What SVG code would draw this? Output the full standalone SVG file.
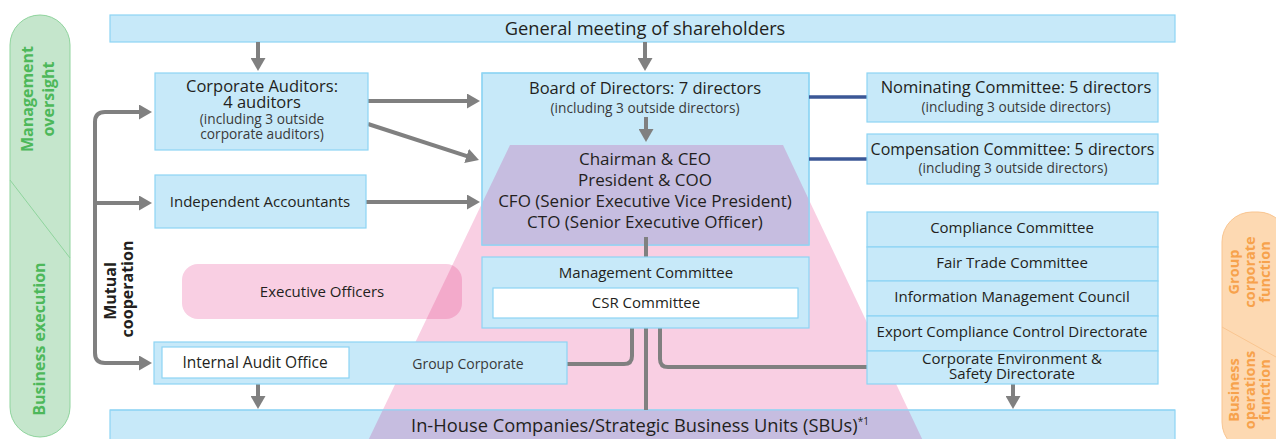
<svg xmlns="http://www.w3.org/2000/svg" width="1276" height="439" viewBox="0 0 1276 439">
<style>
text{font-family:"Open Sans","Noto Sans",sans-serif;fill:#231f20;text-anchor:middle}
.box{fill:#c7e9f9;stroke:#8dd4f4;stroke-width:1.2}
.wbox{fill:#ffffff;stroke:#8dd4f4;stroke-width:1.2}
.t16{font-size:16.5px}
.t17{font-size:17px}
.t15{font-size:15px}
.t13{font-size:13.7px;fill:#3a3a3a}
.t18{font-size:18.3px}
.con{fill:none;stroke:#808080;stroke-width:4}
.blu{fill:none;stroke:#3b5796;stroke-width:3.5}
.grn{font-size:16px;font-weight:bold;fill:#4db85a}
.org{font-size:14.5px;font-weight:bold;fill:#f7a24c}
.mut{font-size:16px;font-weight:bold;fill:#231f20}
</style>
<defs>
<clipPath id="trap"><polygon points="510,145 783,145 925,445 366,445"/></clipPath>
<marker id="ah" viewBox="0 0 13 15" refX="6" refY="7.5" markerWidth="13" markerHeight="15" markerUnits="userSpaceOnUse" orient="auto"><path d="M0,0 L13,7.5 L0,15 z" fill="#808080"/></marker>
</defs>

<g id="side-left">
<rect x="10" y="15" width="60" height="422" rx="30" fill="#c5e6cc" stroke="#8fd49d" stroke-width="1"/>
<line x1="10" y1="180" x2="70" y2="258" stroke="#8fd49d" stroke-width="1"/>
<text class="grn" transform="translate(33,99) rotate(-90)">Management</text>
<text class="grn" transform="translate(54,99) rotate(-90)">oversight</text>
<text class="grn" transform="translate(45,339) rotate(-90)">Business execution</text>
</g>

<g id="side-right">
<rect x="1222" y="212" width="66" height="240" rx="30" fill="#fdd9b2" stroke="#f9c590" stroke-width="1"/>
<line x1="1222" y1="327" x2="1276" y2="357" stroke="#f9c590" stroke-width="1"/>
<text class="org" transform="translate(1239,272) rotate(-90)">Group</text>
<text class="org" transform="translate(1254.5,272) rotate(-90)">corporate</text>
<text class="org" transform="translate(1270,272) rotate(-90)">function</text>
<text class="org" transform="translate(1239,390) rotate(-90)">Business</text>
<text class="org" transform="translate(1254.5,390) rotate(-90)">operations</text>
<text class="org" transform="translate(1270,390) rotate(-90)">function</text>
</g>

<g id="gms">
<rect class="box" x="110" y="15" width="1065" height="27"/>
<text class="t18" x="645" y="35">General meeting of shareholders</text>
</g>

<polygon id="executive-trapezoid" points="510,145 783,145 925,445 366,445" fill="#f9cfe3"/>

<g id="board">
<rect class="box" x="482" y="73" width="327" height="172"/>
<rect x="482" y="73" width="327" height="172" fill="#c6bde0" clip-path="url(#trap)"/>
<rect x="482" y="73" width="327" height="172" fill="none" stroke="#8dd4f4" stroke-width="1.2"/>
<text class="t16" x="645" y="94">Board of Directors: 7 directors</text>
<text class="t13" x="645" y="113">(including 3 outside directors)</text>
<text class="t17" x="645" y="165">Chairman &amp; CEO</text>
<text class="t17" x="645" y="186">President &amp; COO</text>
<text class="t17" x="645" y="207">CFO (Senior Executive Vice President)</text>
<text class="t17" x="645" y="228">CTO (Senior Executive Officer)</text>
</g>

<g id="sbu">
<rect class="box" x="110" y="410" width="1065" height="40"/>
<rect x="110" y="410" width="1065" height="40" fill="#c6bde0" clip-path="url(#trap)"/>
<line x1="110" y1="410" x2="1175" y2="410" stroke="#8dd4f4" stroke-width="1.2"/>
<text class="t18" x="640" y="432">In-House Companies/Strategic Business Units (SBUs)<tspan font-size="10" dy="-7">*1</tspan></text>
</g>

<g id="executive-officers">
<rect x="182" y="264" width="280" height="55" rx="16" fill="#f9cfe3"/>
<rect x="182" y="264" width="280" height="55" rx="16" fill="#f3aacb" clip-path="url(#trap)"/>
<text class="t15" x="322" y="297">Executive Officers</text>
</g>

<g id="connectors">
<line class="con" x1="258" y1="42" x2="258" y2="64" marker-end="url(#ah)"/>
<line class="con" x1="645" y1="42" x2="645" y2="64" marker-end="url(#ah)"/>
<line class="con" x1="368" y1="101" x2="473" y2="101" marker-end="url(#ah)"/>
<line class="con" x1="368" y1="124" x2="472.3" y2="157.8" marker-end="url(#ah)"/>
<line class="con" x1="366" y1="202" x2="473" y2="202" marker-end="url(#ah)"/>
<line class="con" x1="646" y1="117" x2="646" y2="135" marker-end="url(#ah)"/>
<path class="con" d="M95,210 V122 Q95,112 105,112 H145" marker-end="url(#ah)"/>
<path class="con" d="M95,200 V353 Q95,363 105,363 H145" marker-end="url(#ah)"/>
<line class="con" x1="95" y1="203" x2="145" y2="203" marker-end="url(#ah)"/>
<line class="con" x1="646" y1="237" x2="646" y2="257"/>
<line class="con" x1="646" y1="328" x2="646" y2="410"/>
<path class="con" d="M632,328 V356 Q632,364 624,364 H567"/>
<path class="con" d="M660,328 V359 Q660,367 668,367 H867"/>
<line class="con" x1="258" y1="384" x2="258" y2="402" marker-end="url(#ah)"/>
<line class="con" x1="1013" y1="384" x2="1013" y2="402" marker-end="url(#ah)"/>
<line class="blu" x1="809" y1="97" x2="867" y2="97"/>
<line class="blu" x1="809" y1="159" x2="867" y2="159"/>
</g>

<g id="mutual-label">
<text class="mut" transform="translate(116,291) rotate(-90)">Mutual</text>
<text class="mut" transform="translate(133,289) rotate(-90)">cooperation</text>
</g>

<g id="corporate-auditors">
<rect class="box" x="155" y="73" width="213" height="77"/>
<text class="t16" x="262" y="92">Corporate Auditors:</text>
<text class="t16" x="262" y="108">4 auditors</text>
<text class="t13" x="262" y="124">(including 3 outside</text>
<text class="t13" x="262" y="139">corporate auditors)</text>
</g>

<g id="independent-accountants">
<rect class="box" x="155" y="175" width="211" height="53"/>
<text class="t15" x="260" y="207">Independent Accountants</text>
</g>

<g id="nominating">
<rect class="box" x="867" y="73" width="291" height="49"/>
<text class="t16" x="1016" y="93">Nominating Committee: 5 directors</text>
<text class="t13" x="1016" y="112">(including 3 outside directors)</text>
</g>

<g id="compensation">
<rect class="box" x="867" y="134" width="291" height="50"/>
<text class="t16" x="1012.5" y="155" style="font-size:16px">Compensation Committee: 5 directors</text>
<text class="t13" x="1013" y="173">(including 3 outside directors)</text>
</g>

<g id="management-committee">
<rect class="box" x="482" y="257" width="327" height="71"/>
<text class="t15" x="646" y="278">Management Committee</text>
<rect class="wbox" x="493" y="288" width="305" height="30"/>
<text class="t15" x="646" y="308">CSR Committee</text>
</g>

<g id="group-corporate">
<rect class="box" x="154" y="342" width="413" height="42"/>
<rect class="wbox" x="162" y="347" width="187" height="31"/>
<text class="t15" x="255" y="368" style="font-size:15.5px">Internal Audit Office</text>
<text x="468" y="369" style="font-size:14px;fill:#3a3a3a">Group Corporate</text>
</g>

<g id="compliance-group">
<rect class="box" x="867" y="212" width="291" height="35"/>
<rect class="box" x="867" y="247" width="291" height="34"/>
<rect class="box" x="867" y="281" width="291" height="35"/>
<rect class="box" x="867" y="316" width="291" height="35"/>
<rect class="box" x="867" y="351" width="291" height="33"/>
<text class="t15" x="1012" y="233">Compliance Committee</text>
<text class="t15" x="1012" y="268">Fair Trade Committee</text>
<text class="t15" x="1012" y="302">Information Management Council</text>
<text class="t15" x="1012" y="337">Export Compliance Control Directorate</text>
<text class="t15" x="1012" y="364">Corporate Environment &amp;</text>
<text class="t15" x="1012" y="379">Safety Directorate</text>
</g>
</svg>
